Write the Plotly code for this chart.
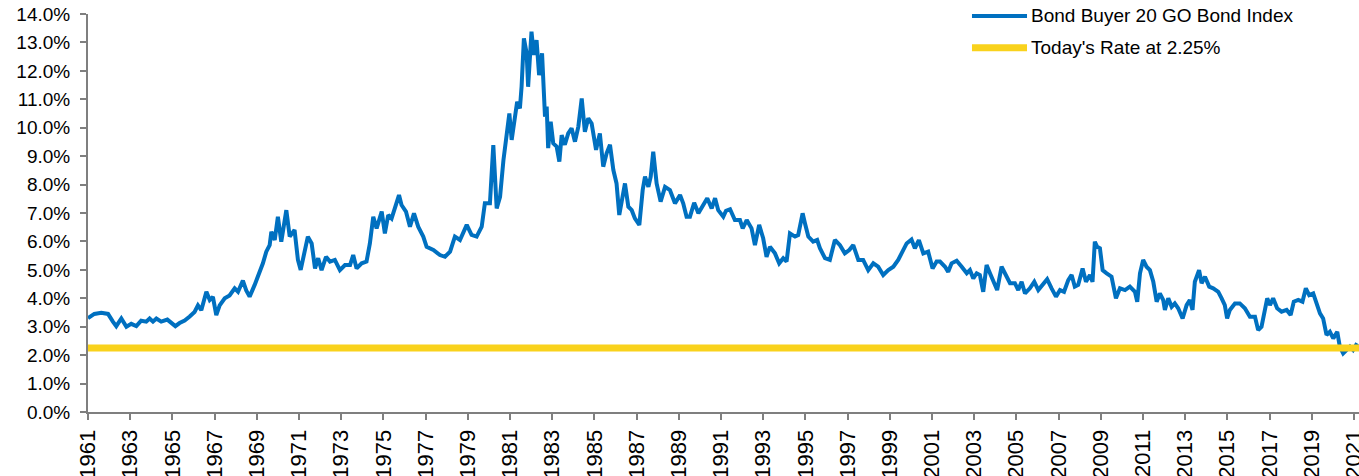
import plotly.graph_objects as go

# ---- data ----
years = [
    1961.00, 1961.08, 1961.30, 1961.63, 1961.95, 1962.18, 1962.34, 1962.58, 1962.82, 1963.05,
    1963.29, 1963.52, 1963.76, 1963.92, 1964.08, 1964.24, 1964.47, 1964.76, 1964.95, 1965.14,
    1965.34, 1965.58, 1965.82, 1966.05, 1966.21, 1966.37, 1966.61, 1966.77, 1966.92, 1967.08,
    1967.24, 1967.48, 1967.71, 1967.95, 1968.11, 1968.34, 1968.50, 1968.66, 1968.90, 1969.13,
    1969.29, 1969.45, 1969.61, 1969.69, 1969.85, 1970.00, 1970.16, 1970.40, 1970.56, 1970.79,
    1970.95, 1971.08, 1971.22, 1971.42, 1971.60, 1971.76, 1971.91, 1972.07, 1972.28, 1972.47,
    1972.70, 1972.94, 1973.18, 1973.42, 1973.57, 1973.73, 1973.97, 1974.20, 1974.36, 1974.52,
    1974.68, 1974.92, 1975.07, 1975.23, 1975.39, 1975.55, 1975.74, 1975.86, 1976.07, 1976.26,
    1976.45, 1976.65, 1976.89, 1977.05, 1977.37, 1977.68, 1977.92, 1978.16, 1978.39, 1978.63,
    1978.95, 1979.18, 1979.42, 1979.66, 1979.81, 1980.05, 1980.21, 1980.37, 1980.53, 1980.69,
    1980.84, 1980.97, 1981.08, 1981.24, 1981.34, 1981.47, 1981.55, 1981.66, 1981.79, 1981.86,
    1982.02, 1982.13, 1982.26, 1982.38, 1982.52, 1982.66, 1982.74, 1982.81, 1982.93, 1983.05,
    1983.21, 1983.34, 1983.45, 1983.60, 1983.76, 1983.92, 1984.08, 1984.24, 1984.40, 1984.55,
    1984.71, 1984.87, 1985.08, 1985.26, 1985.42, 1985.58, 1985.74, 1985.90, 1986.05, 1986.18,
    1986.29, 1986.45, 1986.61, 1986.77, 1986.92, 1987.13, 1987.29, 1987.40, 1987.56, 1987.67,
    1987.79, 1987.95, 1988.14, 1988.35, 1988.58, 1988.82, 1989.06, 1989.21, 1989.37, 1989.53,
    1989.73, 1989.93, 1990.16, 1990.35, 1990.56, 1990.72, 1990.87, 1991.11, 1991.24, 1991.43,
    1991.66, 1991.90, 1992.03, 1992.22, 1992.45, 1992.61, 1992.81, 1993.00, 1993.16, 1993.32,
    1993.56, 1993.76, 1993.95, 1994.11, 1994.27, 1994.51, 1994.66, 1994.87, 1994.98, 1995.14,
    1995.37, 1995.56, 1995.69, 1995.93, 1996.16, 1996.40, 1996.64, 1996.87, 1997.08, 1997.27,
    1997.51, 1997.74, 1997.98, 1998.22, 1998.45, 1998.69, 1998.93, 1999.17, 1999.40, 1999.64,
    1999.80, 2000.03, 2000.19, 2000.38, 2000.59, 2000.82, 2001.03, 2001.22, 2001.38, 2001.62,
    2001.77, 2001.93, 2002.17, 2002.41, 2002.65, 2002.80, 2002.96, 2003.12, 2003.27, 2003.43,
    2003.59, 2003.75, 2003.90, 2004.09, 2004.30, 2004.46, 2004.70, 2004.93, 2005.09, 2005.25,
    2005.41, 2005.64, 2005.85, 2006.04, 2006.27, 2006.46, 2006.67, 2006.88, 2007.07, 2007.26,
    2007.46, 2007.62, 2007.77, 2007.93, 2008.14, 2008.30, 2008.49, 2008.61, 2008.72, 2008.83,
    2008.96, 2009.09, 2009.28, 2009.51, 2009.72, 2009.91, 2010.15, 2010.38, 2010.62, 2010.73,
    2010.86, 2011.01, 2011.17, 2011.33, 2011.49, 2011.65, 2011.80, 2011.96, 2012.04, 2012.20,
    2012.36, 2012.51, 2012.67, 2012.88, 2013.07, 2013.22, 2013.35, 2013.46, 2013.66, 2013.78,
    2013.94, 2014.14, 2014.33, 2014.57, 2014.73, 2014.88, 2014.99, 2015.12, 2015.36, 2015.59,
    2015.83, 2016.07, 2016.31, 2016.46, 2016.62, 2016.73, 2016.89, 2017.02, 2017.17, 2017.36,
    2017.57, 2017.81, 2018.00, 2018.15, 2018.36, 2018.56, 2018.72, 2018.88, 2019.07, 2019.23,
    2019.39, 2019.54, 2019.70, 2019.86, 2020.02, 2020.21, 2020.33, 2020.49, 2020.65, 2020.81,
    2020.96, 2021.15,
]

bond_index = [
    3.30, 3.35, 3.45, 3.49, 3.45, 3.18, 3.02, 3.29, 3.00, 3.10,
    3.02, 3.21, 3.18, 3.29, 3.18, 3.29, 3.18, 3.25, 3.13, 3.02,
    3.13, 3.22, 3.36, 3.52, 3.75, 3.58, 4.23, 3.94, 4.05, 3.41,
    3.75, 4.00, 4.10, 4.35, 4.23, 4.62, 4.28, 4.06, 4.47, 4.88,
    5.23, 5.64, 5.87, 6.34, 6.05, 6.87, 5.99, 7.10, 6.17, 6.40,
    5.35, 5.00, 5.46, 6.17, 5.93, 5.05, 5.41, 4.99, 5.46, 5.29,
    5.35, 4.99, 5.17, 5.17, 5.52, 5.05, 5.23, 5.29, 5.93, 6.87,
    6.46, 7.05, 6.28, 6.93, 6.81, 7.16, 7.63, 7.28, 7.05, 6.52,
    6.99, 6.52, 6.17, 5.81, 5.70, 5.52, 5.46, 5.64, 6.17, 6.05,
    6.58, 6.23, 6.17, 6.52, 7.34, 7.34, 9.39, 7.16, 7.57, 8.86,
    9.68, 10.50, 9.57, 10.27, 10.91, 10.68, 11.44, 13.14, 12.62, 11.44,
    13.38, 12.56, 13.08, 11.85, 12.62, 10.39, 10.74, 9.28, 10.21, 9.45,
    9.34, 8.81, 9.74, 9.40, 9.80, 9.98, 9.51, 10.04, 11.03, 9.86,
    10.33, 10.15, 9.22, 9.80, 8.63, 9.10, 9.40, 8.51, 8.04, 6.93,
    7.46, 8.04, 7.22, 7.10, 6.81, 6.58, 7.81, 8.28, 7.92, 8.28,
    9.16, 8.04, 7.40, 7.92, 7.81, 7.34, 7.63, 7.34, 6.87, 6.87,
    7.36, 6.99, 7.28, 7.52, 7.16, 7.52, 7.10, 6.87, 7.08, 7.13,
    6.75, 6.75, 6.46, 6.75, 6.46, 5.87, 6.58, 6.11, 5.46, 5.81,
    5.58, 5.23, 5.41, 5.29, 6.28, 6.17, 6.22, 6.99, 6.64, 6.17,
    5.99, 6.05, 5.76, 5.41, 5.35, 6.05, 5.87, 5.58, 5.70, 5.87,
    5.35, 5.35, 4.99, 5.23, 5.11, 4.82, 4.99, 5.11, 5.35, 5.70,
    5.93, 6.07, 5.76, 6.05, 5.58, 5.64, 5.05, 5.29, 5.29, 5.11,
    4.93, 5.23, 5.32, 5.11, 4.88, 4.99, 4.70, 4.88, 4.82, 4.23,
    5.17, 4.88, 4.64, 4.29, 5.11, 4.88, 4.53, 4.53, 4.29, 4.58,
    4.17, 4.35, 4.58, 4.29, 4.47, 4.67, 4.35, 4.06, 4.29, 4.23,
    4.64, 4.82, 4.41, 4.47, 5.05, 4.58, 4.82, 4.58, 5.99, 5.81,
    5.76, 4.99, 4.88, 4.76, 4.00, 4.35, 4.29, 4.41, 4.23, 3.88,
    4.88, 5.35, 5.11, 4.99, 4.58, 3.88, 4.17, 3.94, 3.59, 4.00,
    3.70, 3.82, 3.65, 3.29, 3.76, 3.94, 3.59, 4.58, 4.99, 4.53,
    4.76, 4.41, 4.35, 4.23, 4.00, 3.76, 3.29, 3.59, 3.82, 3.82,
    3.65, 3.35, 3.35, 2.88, 3.00, 3.47, 4.00, 3.76, 4.00, 3.65,
    3.53, 3.59, 3.41, 3.88, 3.94, 3.88, 4.35, 4.11, 4.17, 3.82,
    3.47, 3.29, 2.71, 2.82, 2.59, 2.82, 2.30, 2.06, 2.18, 2.30,
    2.18, 2.42,
]

todays_rate = 2.25
rate_span = [1961.0, 2021.3]
tick_years = list(range(1961, 2022, 2))
tick_labels = [str(y) for y in tick_years]
legend_names = ["Bond Buyer 20 GO Bond Index", "Today's Rate at 2.25%"]

BLUE = "#0070C0"
YELLOW = "#F9D21C"
AXIS = "#7F7F7F"
FONT = "Arial, Liberation Sans, sans-serif"

fig = go.Figure()
fig.add_trace(go.Scatter(
    x=years, y=bond_index, mode="lines", name=legend_names[0],
    line=dict(color=BLUE, width=4), showlegend=False,
))
fig.add_trace(go.Scatter(
    x=rate_span, y=[todays_rate] * len(rate_span), mode="lines", name=legend_names[1],
    line=dict(color=YELLOW, width=7), showlegend=False,
))

# manual legend (long line swatches like the original)
legend_rows = [(0.995, BLUE, 4), (0.915, YELLOW, 7)]
for (yy, col, w), name in zip(legend_rows, legend_names):
    fig.add_shape(type="line", xref="paper", yref="paper",
                  x0=0.6955, x1=0.7388, y0=yy, y1=yy,
                  line=dict(color=col, width=w))
    fig.add_annotation(xref="paper", yref="paper", x=0.7405, y=yy,
                       xanchor="left", yanchor="middle", text=name,
                       showarrow=False, font=dict(family=FONT, size=19, color="#000000"))

fig.update_layout(
    width=1359, height=476,
    margin=dict(l=88, r=0, t=14, b=64, autoexpand=False),
    paper_bgcolor="white", plot_bgcolor="white",
    font=dict(family=FONT, size=19, color="#000000"),
    xaxis=dict(
        range=[1961, 2021.24], tickmode="array", tickvals=tick_years, ticktext=tick_labels,
        tickangle=-90, showgrid=False, zeroline=False, automargin=False,
        showline=True, linecolor=AXIS, linewidth=2,
        ticks="outside", ticklen=6, tickwidth=2, tickcolor=AXIS,
        ticklabeloverflow="allow", ticklabelstandoff=1,
        tickfont=dict(family=FONT, size=22, color="#000000"),
    ),
    yaxis=dict(
        range=[0, 14], dtick=1, tick0=0, tickformat=".1f", ticksuffix="%",
        showgrid=False, zeroline=False, automargin=False,
        showline=True, linecolor=AXIS, linewidth=2,
        ticks="outside", ticklen=6, tickwidth=2, tickcolor=AXIS,
        ticklabeloverflow="allow", ticklabelstandoff=6,
        tickfont=dict(family=FONT, size=19, color="#000000"),
    ),
)

# remove the default page margin so the figure fills the 1359x476 window exactly
fig.write_html(
    "out.html",
    config={"displayModeBar": False},
    post_script=(
        "document.body.style.margin='0';"
        "document.body.style.overflow='hidden';"
        "document.documentElement.style.overflow='hidden';"
    ),
)
